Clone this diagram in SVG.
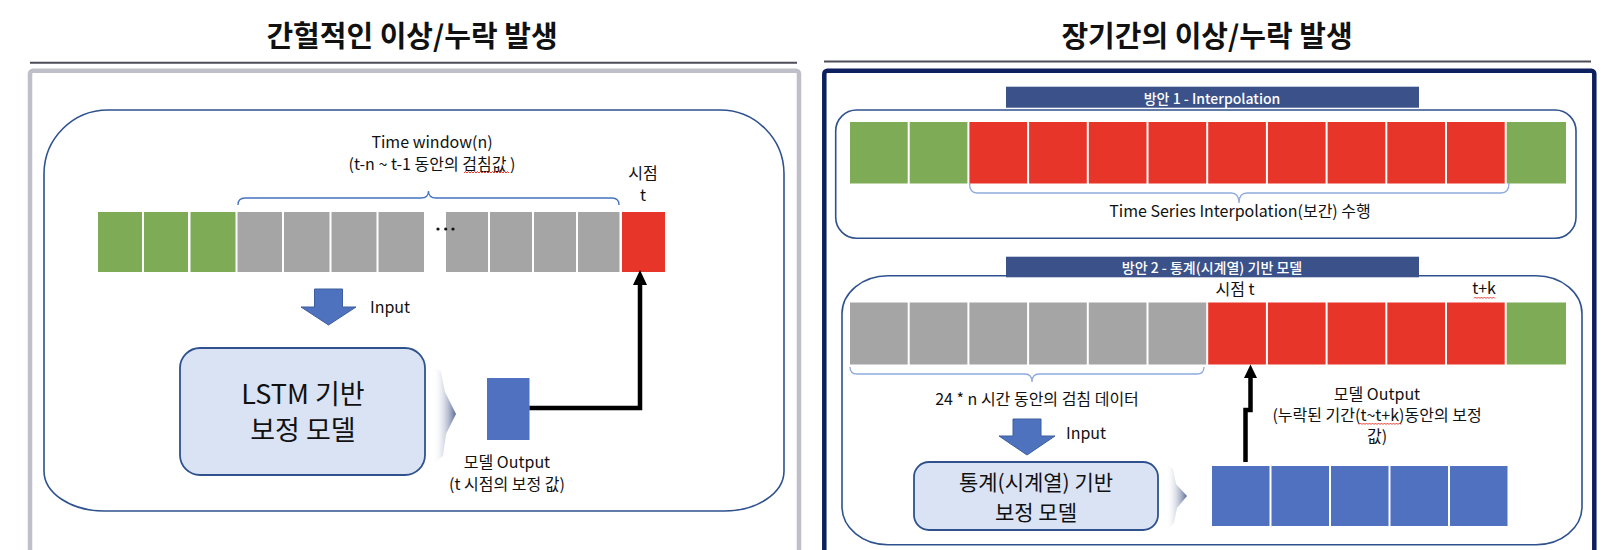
<svg xmlns="http://www.w3.org/2000/svg" width="1612" height="550" viewBox="0 0 1612 550">
<style>
text{font-family:"Noto Sans CJK KR","Noto Sans",sans-serif;fill:#111;}
.t{text-anchor:middle;dominant-baseline:central;}
.title{font-size:29px;font-weight:700;}
.b{font-size:16px;}
.bar{font-size:14px;fill:#fff;font-weight:500;}
.big{font-size:27px;}
.mid{font-size:21px;}
.g{fill:#7eab56;}
.r{fill:#e8352a;}
.gy{fill:#a5a5a5;}
.bl{fill:#4f71bf;}
.rbox{fill:none;stroke:#2f528f;stroke-width:1.6;}
.mbox{fill:#dae3f3;stroke:#2f528f;stroke-width:1.8;}
.brace{fill:none;stroke-width:1.3;}
.conn{fill:none;stroke:#000;stroke-width:4.5;}
.sq{fill:none;stroke:#e8392f;stroke-width:1;}
.barr{fill:#4f72bf;stroke:#3d5d9e;stroke-width:1;}
</style>
<defs>
<linearGradient id="chev" x1="0" y1="0" x2="1" y2="0">
<stop offset="0" stop-color="#ffffff" stop-opacity="0"/>
<stop offset="1" stop-color="#5a6a96"/>
</linearGradient>
</defs>

<!-- LEFT PANEL -->
<g id="left-title">
<text class="t title" x="412" y="34">간헐적인 이상/누락 발생</text>
<line x1="30" y1="62.7" x2="797" y2="62.7" stroke="#4d4d5a" stroke-width="2"/>
</g>
<g id="left-frame">
<rect x="30" y="70.7" width="769" height="520" rx="3" fill="none" stroke="#bfbfc9" stroke-width="4.5"/>
<path class="rbox" d="M108,110 H720 A64,64 0 0 1 784,174 V471 A60,40 0 0 1 724,511 H104 A60,40 0 0 1 44,471 V174 A64,64 0 0 1 108,110 Z"/>
</g>
<g id="left-window-label">
<text class="t b" x="432" y="141">Time window(n)</text>
<text class="t b" x="432" y="163">(t-n ~ t-1 동안의 검침값 )</text>
<path class="sq" d="M464,173 l1.5,-1.5 l1.5,1.5 l1.5,-1.5 l1.5,1.5 l1.5,-1.5 l1.5,1.5 l1.5,-1.5 l1.5,1.5 l1.5,-1.5 l1.5,1.5 l1.5,-1.5 l1.5,1.5 l1.5,-1.5 l1.5,1.5 l1.5,-1.5 l1.5,1.5 l1.5,-1.5 l1.5,1.5 l1.5,-1.5 l1.5,1.5 l1.5,-1.5 l1.5,1.5 l1.5,-1.5 l1.5,1.5 l1.5,-1.5 l1.5,1.5 l1.5,-1.5 l1.5,1.5 l1.5,-1.5 l1.5,1.5"/>
<path class="brace" stroke="#4472c4" d="M238,205 Q238,198 245,198 H421 Q428.5,198 428.5,191 Q428.5,198 436,198 H612 Q619,198 619,205"/>
</g>
<g id="left-point-label">
<text class="t b" x="643" y="172">시점</text>
<text class="t b" x="643" y="194">t</text>
</g>
<g id="left-sequence">
<rect class="g" x="98" y="212" width="44" height="60"/>
<rect class="g" x="144" y="212" width="44" height="60"/>
<rect class="g" x="190.5" y="212" width="45" height="60"/>
<rect class="gy" x="237.5" y="212" width="44.5" height="60"/>
<rect class="gy" x="284" y="212" width="45.5" height="60"/>
<rect class="gy" x="331.5" y="212" width="45" height="60"/>
<rect class="gy" x="378.5" y="212" width="45.5" height="60"/>
<rect class="gy" x="446" y="212" width="42" height="60"/>
<rect class="gy" x="490" y="212" width="42" height="60"/>
<rect class="gy" x="534" y="212" width="42" height="60"/>
<rect class="gy" x="578" y="212" width="41.5" height="60"/>
<rect class="r" x="622" y="212" width="43" height="60"/>
<circle cx="438" cy="229" r="1.6" fill="#111"/>
<circle cx="445.7" cy="229" r="1.6" fill="#111"/>
<circle cx="453" cy="229" r="1.6" fill="#111"/>
</g>
<g id="left-input">
<polygon class="barr" points="314.5,289 342.5,289 342.5,307 356,307 328.5,325 301,307 314.5,307"/>
<text class="b" x="370" y="306" dominant-baseline="central">Input</text>
</g>
<g id="left-model">
<rect class="mbox" x="180" y="348" width="245" height="127" rx="20"/>
<text class="t big" x="303" y="392">LSTM 기반</text>
<text class="t big" x="303" y="428">보정 모델</text>
</g>
<g id="left-chevron">
<polygon fill="url(#chev)" points="433,366 441,372 445,392 456,414 446,434 443,456 433,464"/>
</g>
<g id="left-output">
<rect class="bl" x="487" y="378" width="42.5" height="62"/>
<text class="t b" x="507" y="461">모델 Output</text>
<text class="t b" x="507" y="483">(t 시점의 보정 값)</text>
</g>

<!-- RIGHT PANEL -->
<g id="right-title">
<text class="t title" x="1207" y="34">장기간의 이상/누락 발생</text>
<line x1="824" y1="61.5" x2="1591" y2="61.5" stroke="#4d4d5a" stroke-width="2"/>
</g>
<g id="right-frame">
<rect x="824.3" y="70.7" width="770" height="520" rx="3" fill="none" stroke="#0c1f5e" stroke-width="4.5"/>
</g>
<g id="option1">
<rect class="rbox" x="835.7" y="110" width="740.3" height="128.3" rx="21"/>
<rect class="g" x="850" y="122" width="57.7" height="61.5"/>
<rect class="g" x="909.7" y="122" width="57.7" height="61.5"/>
<rect class="r" x="969.4" y="122" width="57.7" height="61.5"/>
<rect class="r" x="1029.1" y="122" width="57.7" height="61.5"/>
<rect class="r" x="1088.8" y="122" width="57.7" height="61.5"/>
<rect class="r" x="1148.5" y="122" width="57.7" height="61.5"/>
<rect class="r" x="1208.2" y="122" width="57.7" height="61.5"/>
<rect class="r" x="1267.9" y="122" width="57.7" height="61.5"/>
<rect class="r" x="1327.6" y="122" width="57.7" height="61.5"/>
<rect class="r" x="1387.3" y="122" width="57.7" height="61.5"/>
<rect class="r" x="1447" y="122" width="57.7" height="61.5"/>
<rect class="g" x="1506.7" y="122" width="59.3" height="61.5"/>
<path class="brace" stroke="#8faadc" d="M969.5,183 Q969.5,193 977,193 H1231 Q1239,193 1239,203 Q1239,193 1247,193 H1501 Q1509,193 1509,183"/>
<text class="t b" x="1240" y="210">Time Series Interpolation(보간) 수행</text>
</g>
<g id="bar1">
<rect x="1006" y="86.7" width="413" height="21" fill="#3a5289"/>
<text class="t bar" x="1212" y="97.5">방안 1 - Interpolation</text>
</g>
<g id="option2">
<rect class="rbox" x="842" y="275.7" width="740" height="269" rx="46" ry="38"/>
<rect class="gy" x="850" y="302.5" width="57.7" height="62"/>
<rect class="gy" x="909.7" y="302.5" width="57.7" height="62"/>
<rect class="gy" x="969.4" y="302.5" width="57.7" height="62"/>
<rect class="gy" x="1029.1" y="302.5" width="57.7" height="62"/>
<rect class="gy" x="1088.8" y="302.5" width="57.7" height="62"/>
<rect class="gy" x="1148.5" y="302.5" width="57.7" height="62"/>
<rect class="r" x="1208.2" y="302.5" width="57.7" height="62"/>
<rect class="r" x="1267.9" y="302.5" width="57.7" height="62"/>
<rect class="r" x="1327.6" y="302.5" width="57.7" height="62"/>
<rect class="r" x="1387.3" y="302.5" width="57.7" height="62"/>
<rect class="r" x="1447" y="302.5" width="57.7" height="62"/>
<rect class="g" x="1506.7" y="302.5" width="59.3" height="62"/>
<text class="t b" x="1235" y="288">시점 t</text>
<text class="t b" x="1484" y="287">t+k</text>
<path class="sq" d="M1474,298.5 l1.5,-1.5 l1.5,1.5 l1.5,-1.5 l1.5,1.5 l1.5,-1.5 l1.5,1.5 l1.5,-1.5 l1.5,1.5 l1.5,-1.5 l1.5,1.5 l1.5,-1.5 l1.5,1.5 l1.5,-1.5 l1.5,1.5"/>
<path class="brace" stroke="#8faadc" d="M850,367 Q850,374 857,374 H1025 Q1032,374 1032,382 Q1032,374 1039,374 H1197 Q1204,374 1204,367"/>
<text class="t b" x="1037" y="398">24 * n 시간 동안의 검침 데이터</text>
</g>
<g id="bar2">
<rect x="1006" y="256.7" width="413" height="20.6" fill="#3a5289"/>
<text class="t bar" x="1212" y="267">방안 2 - 통계(시계열) 기반 모델</text>
</g>
<g id="right-input">
<polygon class="barr" points="1013,419 1041,419 1041,436 1055,436 1027,455 999,436 1013,436"/>
<text class="b" x="1066" y="432" dominant-baseline="central">Input</text>
</g>
<g id="right-model">
<rect class="mbox" x="914" y="462" width="244" height="68" rx="15"/>
<text class="t mid" x="1036" y="480.5">통계(시계열) 기반</text>
<text class="t mid" x="1036" y="511">보정 모델</text>
</g>
<g id="right-chevron">
<polygon fill="url(#chev)" points="1166,463 1173,469 1176,484 1187,496 1177,508 1174,523 1166,531"/>
</g>
<g id="right-output">
<rect class="bl" x="1212" y="466" width="57.5" height="60"/>
<rect class="bl" x="1271.5" y="466" width="57.5" height="60"/>
<rect class="bl" x="1331" y="466" width="57.5" height="60"/>
<rect class="bl" x="1390.5" y="466" width="57.5" height="60"/>
<rect class="bl" x="1450" y="466" width="57.5" height="60"/>
<text class="t b" x="1377" y="393">모델 Output</text>
<text class="t b" x="1377" y="414">(누락된 기간(t~t+k)동안의 보정</text>
<text class="t b" x="1377" y="435">값)</text>
<path class="sq" d="M1359,424.5 l1.5,-1.5 l1.5,1.5 l1.5,-1.5 l1.5,1.5 l1.5,-1.5 l1.5,1.5 l1.5,-1.5 l1.5,1.5 l1.5,-1.5 l1.5,1.5 l1.5,-1.5 l1.5,1.5 l1.5,-1.5 l1.5,1.5 l1.5,-1.5 l1.5,1.5 l1.5,-1.5 l1.5,1.5 l1.5,-1.5 l1.5,1.5 l1.5,-1.5 l1.5,1.5 l1.5,-1.5 l1.5,1.5 l1.5,-1.5 l1.5,1.5 l1.5,-1.5 l1.5,1.5"/>
</g>

<g id="connectors">
<path class="conn" d="M529.5,408 H640 V283"/>
<polygon points="640,270 633,285 647,285" fill="#000"/>
<path class="conn" d="M1245.5,462 V410 H1250.5 V375"/>
<polygon points="1250.5,364.5 1244,378 1257,378" fill="#000"/>
</g>
</svg>
